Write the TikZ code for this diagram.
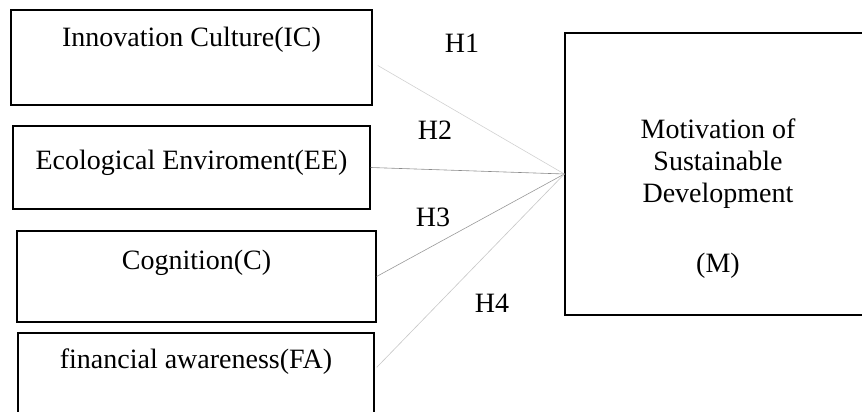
\documentclass[tikz,border=0pt]{standalone}
\usepackage{fontspec}
\setmainfont{Liberation Serif}
\usepackage{tikz}
\usetikzlibrary{
  positioning,
  calc
}

\begin{document}
\begin{tikzpicture}[
      x=1pt,y=1pt,
      factor/.style={
         rectangle,
         line width=1.3pt,
         draw=black,
         inner sep=0pt
      },
      boxtext/.style={
         anchor=base,
         inner sep=0pt,
         font=\fontsize{28}{32}\selectfont
      },
      hyp/.style={
         inner sep=0pt,
         font=\fontsize{28}{32}\selectfont
      },
      link/.style={line width=0.6pt},
    ]
    \useasboundingbox (0,0) rectangle (862,412);
    \clip (0,0) rectangle (862,412);
    % independent variables
    \node (ic) [factor, minimum width=361pt, minimum height=95pt] at (191.5,354.5) {};
    \node (ee) [factor, minimum width=357pt, minimum height=83pt] at (191.5,244.5) {};
    \node (c)  [factor, minimum width=359pt, minimum height=91pt] at (196.5,135.5) {};
    \node (fa) [factor, minimum width=356pt, minimum height=91pt] at (196,33.5) {};
    \node (tic) [boxtext] at ([yshift=-37pt]ic.north) {Innovation Culture(IC)};
    \node (tee) [boxtext] at ([yshift=-44pt]ee.north) {Ecological Enviroment(EE)};
    \node (tc)  [boxtext] at ([yshift=-39pt]c.north) {Cognition(C)};
    \node (tfa) [boxtext] at ([yshift=-36pt]fa.north) {financial awareness(FA)};
    % dependent variable
    \node (m) [factor, minimum width=306pt, minimum height=282pt] at (718,238) {};
    \node (tm) [boxtext, align=center] at ([yshift=-240pt]m.north)
       {Motivation of\\Sustainable\\Development\\[38pt](M)};
    % hypotheses
    \node (h1) [hyp] at (462,369) {H1};
    \node (h2) [hyp] at (435,282) {H2};
    \node (h3) [hyp] at (433,195) {H3};
    \node (h4) [hyp] at (492,109) {H4};
    \draw[link, draw=black!18, shorten <=6pt] ([yshift=-5pt]ic.east) -- (m.west);
    \draw[link, draw=black!45] (ee.east) -- (m.west);
    \draw[link, draw=black!40] (c.east) -- (m.west);
    \draw[link, draw=black!22, shorten <=3pt] ([yshift=9pt]fa.east) -- (m.west);
\end{tikzpicture}
\end{document}
